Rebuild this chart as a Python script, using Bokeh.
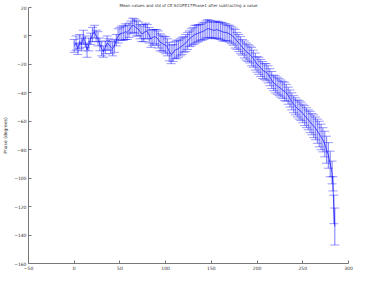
from bokeh.plotting import figure
from bokeh.models import ColumnDataSource, Whisker, TeeHead, FixedTicker, Range1d
from bokeh.embed import file_html
from bokeh.resources import INLINE

title_text = "Mean values and std of CE.SCOPE17Phase1 after subtracting a value"
y_label = "Phase (degrees)"

x_vals = list(range(0, 281, 2)) + [282, 283, 284, 285]

mean_vals = [
    -7, -5, -9, -4, -6, -1, -4, -10, -6, -2,
    1, 3, 0, -2, -6, -9, -11, -8, -5, -6,
    -8, -9, -7, -3, 0, 1.5, 2, 2, 3, 2.5,
    4, 6, 7.5, 7, 5.5, 5, 3, 1.5, 2, 3.5,
    3, 0.5, -2, -1, -0.5, -1, -2.5, -4.5, -5, -6,
    -6.5, -8, -11, -13, -12, -10, -9.5, -9, -8, -7,
    -6, -5, -3.5, -2, -1, 0, 1, 1.5, 2, 2.5,
    3, 3.5, 4.5, 5, 5, 4.5, 4, 4, 4.5, 4,
    3.5, 3, 2.5, 2.5, 2, 1.5, 0.5, -0.5, -2, -3.5,
    -5, -6.5, -8, -9.5, -11, -12, -13, -14.5, -16, -18,
    -20, -21, -22.5, -24, -25, -25.5, -27, -29, -31, -33,
    -34, -35, -36, -37, -38, -39, -40, -42, -44, -46,
    -48, -49.5, -51, -52, -53, -54.5, -56, -57.5, -59, -60.5,
    -62, -63.5, -65, -67, -69, -71, -73, -76, -80, -84,
    -90,
    -96, -104, -122, -134,
]

std_vals = [
    4.5, 5, 4, 5, 4.5, 5, 4, 5, 4.5, 4,
    5, 4.5, 4, 5, 4.5, 5, 4, 4.5, 5, 4,
    4.5, 5, 4.5, 4, 5, 4.5, 5, 5, 5.5, 5,
    5, 4.5, 5, 5, 5.5, 5, 5, 5.5, 6, 5.5,
    5, 5.5, 6, 5.5, 5, 5.5, 6, 6, 5.5, 5.5,
    6, 6, 6.5, 6.5, 6, 6, 6.5, 6, 6, 6,
    5.5, 6, 6, 5.5, 6, 6, 6.5, 6, 6, 5.5,
    6, 6, 6, 6.5, 6, 6, 5.5, 6, 6, 6,
    6, 6.5, 6, 6, 5.5, 6, 6, 6, 6.5, 6,
    6, 6, 5.5, 6, 6, 6, 6, 6.5, 6, 6,
    5.5, 6, 6, 6, 5.5, 6, 6, 6, 6, 5.5,
    6, 6, 6, 6, 6, 6.5, 6, 6, 6, 6,
    6, 6, 6, 6.5, 6.5, 6.5, 7, 7, 7, 7.5,
    7.5, 8, 8, 8.5, 9, 9, 8.5, 9, 9.5, 9,
    9,
    8, 5, 10, 13,
]

x_ticks = [-50, 0, 50, 100, 150, 200, 250, 300]
y_ticks = [-160, -140, -120, -100, -80, -60, -40, -20, 0, 20]

lower = [m - s for m, s in zip(mean_vals, std_vals)]
upper = [m + s for m, s in zip(mean_vals, std_vals)]
src = ColumnDataSource(dict(x=x_vals, mean=mean_vals, lower=lower, upper=upper))

p = figure(width=354, height=272, output_backend="svg", toolbar_location=None,
           x_range=Range1d(-50, 300), y_range=Range1d(-160, 20),
           min_border_left=0, min_border_right=6, min_border_top=2, min_border_bottom=0)

p.title.text = title_text
p.title.align = "center"
p.title.text_font = "DejaVu Sans"
p.title.text_font_size = "4px"
p.title.text_font_style = "normal"
p.title.text_color = "#333333"
p.title.standoff = 0

p.xgrid.visible = False
p.ygrid.visible = False
p.outline_line_color = None
p.background_fill_color = "white"

for ax in (p.xaxis[0], p.yaxis[0]):
    ax.axis_line_color = "#777777"
    ax.major_tick_line_color = "#777777"
    ax.major_tick_in = 3
    ax.major_tick_out = 0
    ax.minor_tick_line_color = None
    ax.major_label_text_font = "DejaVu Sans"
    ax.major_label_text_font_size = "4.5px"
    ax.major_label_text_color = "#333333"
    ax.major_label_standoff = 2

p.xaxis[0].ticker = FixedTicker(ticks=x_ticks)
p.yaxis[0].ticker = FixedTicker(ticks=y_ticks)
p.yaxis[0].axis_label = y_label
p.yaxis[0].axis_label_text_font = "DejaVu Sans"
p.yaxis[0].axis_label_text_font_size = "4.5px"
p.yaxis[0].axis_label_text_font_style = "normal"
p.yaxis[0].axis_label_text_color = "#333333"
p.yaxis[0].axis_label_standoff = 3

w = Whisker(source=src, base="x", lower="lower", upper="upper",
            line_color="blue", line_alpha=0.45, line_width=1.2,
            upper_head=TeeHead(size=9, line_color="blue", line_alpha=0.5, line_width=0.8),
            lower_head=TeeHead(size=9, line_color="blue", line_alpha=0.5, line_width=0.8))
p.add_layout(w)
p.line("x", "mean", source=src, line_color="blue", line_width=0.8, line_alpha=0.8)

open("out.html", "w").write(file_html(p, INLINE))
